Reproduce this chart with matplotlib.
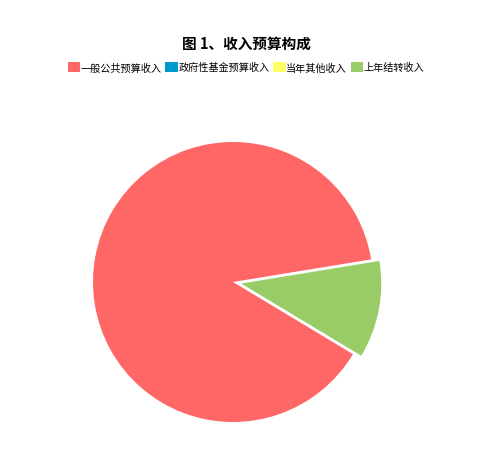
import matplotlib.pyplot as plt
from matplotlib.patches import Patch

plt.rcParams['font.family'] = ['Noto Sans CJK SC', 'DejaVu Sans']

# 收入预算构成（按图中比例估计）
categories = ["一般公共预算收入", "政府性基金预算收入", "当年其他收入", "上年结转收入"]
values = [88.8, 0.0, 0.0, 11.2]
colors = ["#FF6666", "#0099CC", "#FFFF66", "#99CC66"]
explode = [0, 0, 0, 0.06]

fig = plt.figure(figsize=(4.79, 4.56), dpi=100)
fig.text(246 / 479, 1 - 44 / 456, "图 1、收入预算构成", ha="center", va="center",
         fontsize=10.5, fontweight="bold")

cx, cy, r = 233, 283, 140
ax = fig.add_axes([(cx - r) / 479, (456 - cy - r) / 456, 2 * r / 479, 2 * r / 456])
ax.pie(values, colors=colors, explode=explode, startangle=9.3, counterclock=True,
       wedgeprops=dict(linewidth=0))
ax.set_xlim(-1, 1)
ax.set_ylim(-1, 1)
ax.axis("off")

handles = [Patch(facecolor=c, edgecolor="none") for c in colors]
fig.legend(handles, categories, loc="center", bbox_to_anchor=(246 / 479, 1 - 68 / 456),
           ncol=4, frameon=False, fontsize=7.3, handlelength=1.25, handleheight=1.25,
           handletextpad=0.05, columnspacing=0.35, borderpad=0,
           prop=dict(size=7.3, weight="medium"))

fig.savefig("out.png", dpi=100)
